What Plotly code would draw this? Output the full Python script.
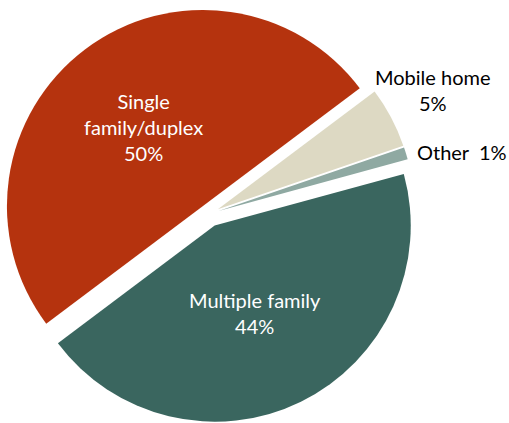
import plotly.graph_objects as go

# Housing type shares (percent), listed clockwise from the upper-right edge
labels = ["Mobile home", "Other", "Multiple family", "Single family/duplex"]
values = [5, 1, 44, 50]
colors = ["#DDD9C3", "#8FA9A2", "#3A665F", "#B5330E"]
pulls = [0.051, 0.051, 0.066, 0.051]

W, H = 509, 423
FONT = "Lato"


def px(x):
    return x / W


def py(y):
    return 1 - y / H


fig = go.Figure(
    go.Pie(
        labels=labels,
        values=values,
        marker=dict(colors=colors, line=dict(width=0)),
        pull=pulls,
        sort=False,
        direction="clockwise",
        rotation=53.1,
        textinfo="none",
        hoverinfo="label+percent",
        domain=dict(x=[0, 0.8212], y=[0, 0.9882]),
        showlegend=False,
    )
)

pct = {lab: f"{v}%" for lab, v in zip(labels, values)}

annotations = [
    dict(x=px(143), y=py(127), text=f"Single<br>family/duplex<br>{pct['Single family/duplex']}",
         font=dict(color="white", size=20, family=FONT)),
    dict(x=px(255), y=py(313), text=f"Multiple family<br>{pct['Multiple family']}",
         font=dict(color="white", size=20, family=FONT)),
    dict(x=px(433), y=py(90), text=f"Mobile home<br>{pct['Mobile home']}",
         font=dict(color="black", size=20, family=FONT)),
    dict(x=px(462), y=py(152), text=f"Other&nbsp;&nbsp;{pct['Other']}",
         font=dict(color="black", size=20, family=FONT)),
]
for a in annotations:
    a.update(xref="paper", yref="paper", xanchor="center", yanchor="middle",
             showarrow=False, align="center")

fig.update_layout(
    width=W,
    height=H,
    margin=dict(l=0, r=0, t=0, b=0),
    paper_bgcolor="white",
    plot_bgcolor="white",
    annotations=annotations,
)

fig.write_html("out.html")
